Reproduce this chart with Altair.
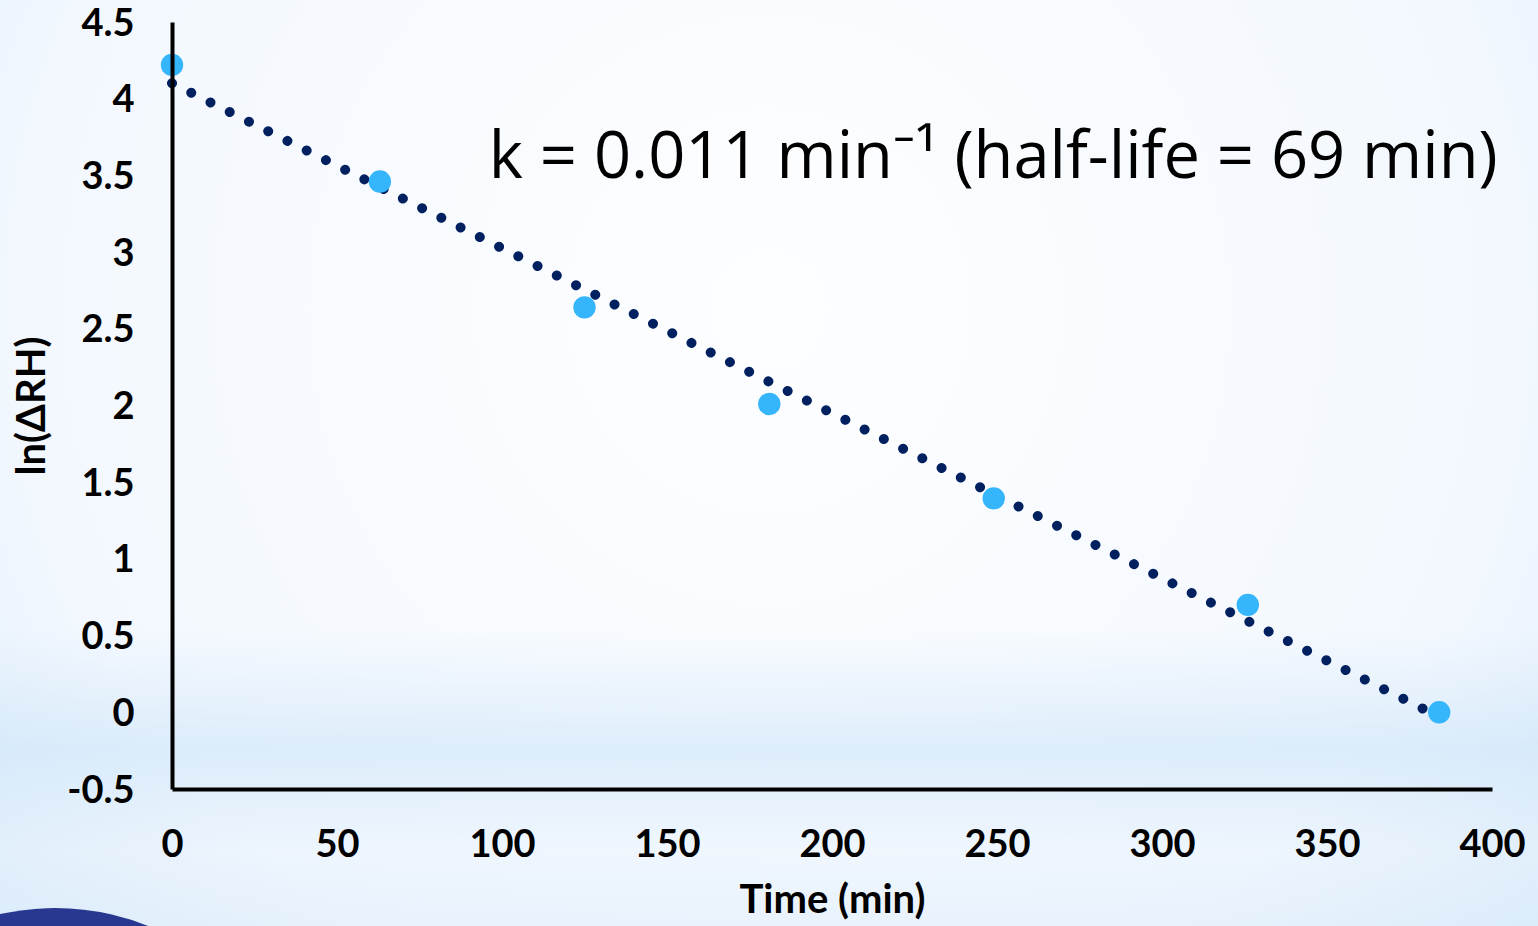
import altair as alt
import pandas as pd

# Data
time_min = [0, 63, 125, 181, 249, 326, 384]
ln_drh = [4.22, 3.46, 2.64, 2.01, 1.395, 0.70, 0.0]
x_ticks = [0, 50, 100, 150, 200, 250, 300, 350, 400]
y_ticks = [-0.5, 0, 0.5, 1, 1.5, 2, 2.5, 3, 3.5, 4, 4.5]
annotation = "k = 0.011 min\u207b\u00b9 (half-life = 69 min)"

df = pd.DataFrame({"t": time_min, "y": ln_drh})
one = pd.DataFrame({"a": [0]})

PL, PT, PR, PB = 172, 22, 46, 137
W, H = 1538 - PL - PR, 926 - PT - PB
FONT = "Lato"

xs = alt.Scale(domain=[0, 400], nice=False, zero=False)
ys = alt.Scale(domain=[-0.5, 4.5], nice=False, zero=False)

bg = alt.Chart(one).mark_rect(
    fill={
        "gradient": "radial",
        "x1": 0.5, "y1": 0.4, "r1": 0.0,
        "x2": 0.5, "y2": 0.4, "r2": 0.8,
        "stops": [
            {"offset": 0.0, "color": "#fdfeff"},
            {"offset": 0.6, "color": "#f3f8fe"},
            {"offset": 1.0, "color": "#d2e7f9"},
        ],
    }
).encode(x=alt.value(-PL), x2=alt.value(W + PR), y=alt.value(-PT), y2=alt.value(H + PB))

band = alt.Chart(one).mark_rect(
    fill={
        "gradient": "linear",
        "x1": 0, "y1": 0, "x2": 0, "y2": 1,
        "stops": [
            {"offset": 0.0, "color": "rgba(205,228,248,0.0)"},
            {"offset": 0.68, "color": "rgba(205,228,248,0.0)"},
            {"offset": 0.81, "color": "rgba(200,226,248,0.55)"},
            {"offset": 0.92, "color": "rgba(205,228,248,0.15)"},
            {"offset": 1.0, "color": "rgba(205,228,248,0.3)"},
        ],
    }
).encode(x=alt.value(-PL), x2=alt.value(W + PR), y=alt.value(-PT), y2=alt.value(H + PB))

swoosh = alt.Chart(one).mark_arc(
    radius=250, theta=5.2, theta2=7.3, color="#283891"
).encode(x=alt.value(55 - PL), y=alt.value(1158 - PT))

base = alt.Chart(df)

trend = base.transform_regression("t", "y", extent=[0, 382]).mark_line(
    color="#002060", strokeWidth=10, strokeDash=[0.01, 21.5], strokeCap="round"
).encode(
    x=alt.X("t:Q", scale=xs),
    y=alt.Y("y:Q", scale=ys),
)

pts = base.mark_circle(size=500, color="#35b5fb", opacity=1).encode(
    x=alt.X(
        "t:Q", scale=xs, title="Time (min)",
        axis=alt.Axis(values=x_ticks, labelExpr="'' + datum.value", zindex=1,
                      labelFlush=False, labelOverlap=False),
    ),
    y=alt.Y(
        "y:Q", scale=ys, title="ln(\u0394RH)",
        axis=alt.Axis(values=y_ticks, labelExpr="'' + datum.value", zindex=1,
                      labelFlush=False, labelOverlap=False, labelOffset=2),
    ),
)

note = alt.Chart(pd.DataFrame({"t": [96], "y": [3.48], "s": [annotation]})).mark_text(
    align="left", baseline="alphabetic", font="Open Sans", fontSize=65, color="#000000"
).encode(x=alt.X("t:Q", scale=xs), y=alt.Y("y:Q", scale=ys), text="s:N")

chart = alt.layer(bg, band, swoosh, trend, pts, note).properties(
    width=W, height=H,
    autosize=alt.AutoSizeParams(type="none"),
    padding={"left": PL, "top": PT, "right": PR, "bottom": PB},
    background="#eef6fd",
).configure_view(stroke=None).configure_axis(
    domainColor="#000000", domainWidth=4, ticks=False, grid=False,
    labelFont=FONT, labelFontWeight="bold", labelFontSize=38, labelColor="#000000",
    titleFont=FONT, titleFontWeight="bold", titleFontSize=40, titleColor="#000000",
).configure_axisX(
    labelPadding=37, titlePadding=16,
).configure_axisY(
    labelPadding=38, titlePadding=14,
)

chart.save("out.html", embed_options={"renderer": "svg", "actions": False})
